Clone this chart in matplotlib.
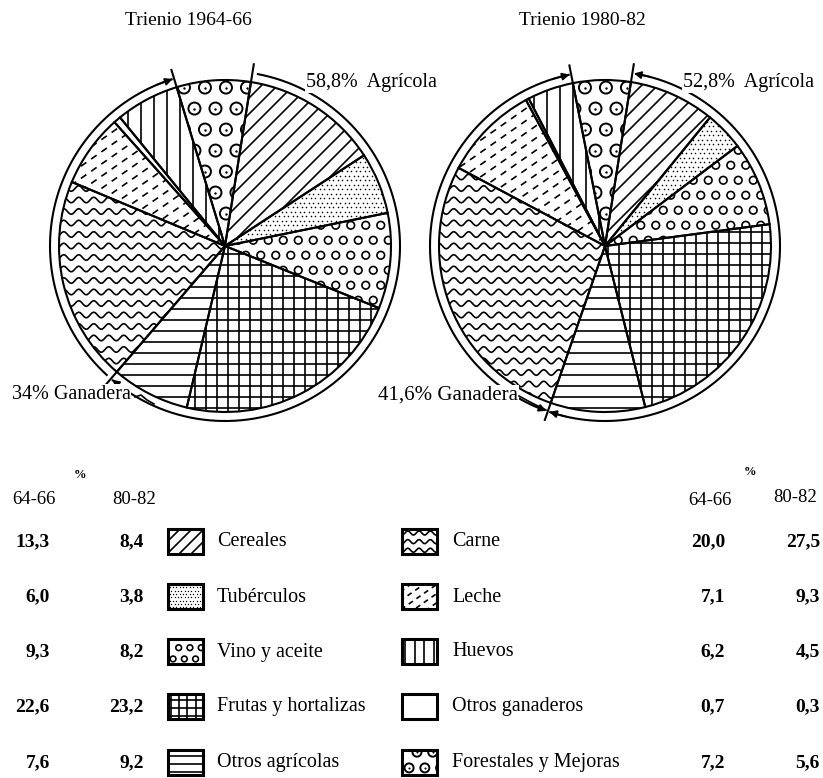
import numpy as np
import matplotlib
matplotlib.use('Agg')
import matplotlib.pyplot as plt
from matplotlib.collections import LineCollection
from matplotlib.patches import Rectangle

plt.rcParams['font.family'] = ['Liberation Serif', 'DejaVu Serif']

# ── datos ────────────────────────────────────────────────
CATEGORIAS = ['Cereales', 'Tubérculos', 'Vino y aceite', 'Frutas y hortalizas',
              'Otros agrícolas', 'Carne', 'Leche', 'Huevos', 'Otros ganaderos',
              'Forestales y Mejoras']
PCT_6466 = [13.3, 6.0, 9.3, 22.6, 7.6, 20.0, 7.1, 6.2, 0.7, 7.2]
PCT_8082 = [8.4, 3.8, 8.2, 23.2, 9.2, 27.5, 9.3, 4.5, 0.3, 5.6]
TRAMAS = ['diag', 'dots', 'rings', 'grid', 'hlines',
          'waves', 'dashes', 'vlines', 'none', 'bigrings']
ORDEN_TARTA = [0, 1, 2, 3, 4, 5, 6, 8, 7, 9]   # sentido horario desde arriba
N_AGR, N_GAN = 5, 4
TITULOS = ['Trienio 1964-66', 'Trienio 1980-82']
ETIQ_AGR = ['58,8%  Agrícola', '52,8%  Agrícola']
ETIQ_GAN = ['34% Ganadera', '41,6% Ganadera']
PERIODOS = ['64-66', '80-82']

# ── maquetación (px, y hacia arriba) ─────────────────────
W, H = 823, 778
R = 166
CENTROS = [(225, H - 246), (605, H - 246)]
START = 81
LW = 1.5
RA = R + 9          # radio de los arcos exteriores


def num(v):
    return f'{v:.1f}'.replace('.', ',')


def trama(ax, tipo, clip, x0, x1, y0, y1, k=1.0, z=2):
    arts = []
    lw = 1.2
    if tipo == 'diag':
        h = y1 - y0
        segs = [[(c, y0), (c + h, y1)] for c in np.arange(x0 - h, x1, 16 * k)]
        arts.append(LineCollection(segs, colors='k', linewidths=lw))
    elif tipo == 'hlines':
        segs = [[(x0, y), (x1, y)] for y in np.arange(y0 + 4 * k, y1, 11 * k)]
        arts.append(LineCollection(segs, colors='k', linewidths=lw))
    elif tipo == 'vlines':
        segs = [[(x, y0), (x, y1)] for x in np.arange(x0 + 4 * k, x1, 13 * k)]
        arts.append(LineCollection(segs, colors='k', linewidths=lw))
    elif tipo == 'grid':
        segs = [[(x0, y), (x1, y)] for y in np.arange(y0 + 4 * k, y1, 11 * k)]
        segs += [[(x, y0), (x, y1)] for x in np.arange(x0 + 4 * k, x1, 11 * k)]
        arts.append(LineCollection(segs, colors='k', linewidths=lw))
    elif tipo == 'waves':
        xs = np.linspace(x0, x1, int((x1 - x0) / 1.5) + 2)
        segs = [np.column_stack([xs, y + 2.8 * k * np.sin(2 * np.pi * xs / (15 * k))])
                for y in np.arange(y0 + 5 * k, y1, 11.5 * k)]
        arts.append(LineCollection(segs, colors='k', linewidths=lw))
    elif tipo == 'dashes':
        a = np.deg2rad(35)
        d = np.array([np.cos(a), np.sin(a)])
        n = np.array([-d[1], d[0]])
        L = (x1 - x0) + (y1 - y0)
        cc = np.array([(x0 + x1) / 2, (y0 + y1) / 2])
        segs = []
        for i, t in enumerate(np.arange(-L / 2, L / 2, 10 * k)):
            p = cc + n * t + d * (i % 2) * 5 * k
            segs.append([p - d * L, p + d * L])
        arts.append(LineCollection(segs, colors='k', linewidths=lw,
                                   linestyles=[(0, (4 * k, 3.5 * k))]))
    elif tipo in ('dots', 'rings', 'bigrings'):
        paso = {'dots': 4.5, 'rings': 15, 'bigrings': 21}[tipo] * k
        xs, ys = np.meshgrid(np.arange(x0 + 0.45 * paso, x1 + paso, paso),
                             np.arange(y0 + 0.45 * paso, y1 + paso, paso))
        xs[1::2] += paso / 2
        xs, ys = xs.ravel(), ys.ravel()
        if tipo == 'dots':
            arts.append(ax.scatter(xs, ys, s=1.3 * k, c='k', linewidths=0))
        elif tipo == 'rings':
            arts.append(ax.scatter(xs, ys, s=30 * k * k, facecolors='none',
                                   edgecolors='k', linewidths=1.2))
        else:
            arts.append(ax.scatter(xs, ys, s=75 * k * k, facecolors='none',
                                   edgecolors='k', linewidths=1.4))
            arts.append(ax.scatter(xs, ys, s=3 * k, c='k', linewidths=0))
    for art in arts:
        if isinstance(art, LineCollection):
            ax.add_collection(art)
        art.set_zorder(z)
        art.set_clip_path(clip)


def punto(c, r, ang):
    t = np.deg2rad(ang)
    return c[0] + r * np.cos(t), c[1] + r * np.sin(t)


def arco(ax, c, r, a0, a1):
    t = np.linspace(a0, a1, 300)
    x, y = punto(c, r, t)
    ax.plot(x, y, color='k', lw=LW, zorder=3, solid_capstyle='butt')


def flecha(ax, c, r, a_fin, a_antes):
    ax.annotate('', xy=punto(c, r, a_fin), xytext=punto(c, r, a_antes),
                arrowprops=dict(arrowstyle='-|>', color='k', lw=1.2,
                                mutation_scale=11, shrinkA=0, shrinkB=0), zorder=4)


fig = plt.figure(figsize=(W / 100, H / 100), dpi=100)
ax = fig.add_axes([0, 0, 1, 1])

for j, pct in enumerate([PCT_6466, PCT_8082]):
    c = CENTROS[j]
    vals = [pct[i] for i in ORDEN_TARTA]
    cunas, _ = ax.pie(vals, startangle=START, counterclock=False, center=c, radius=R,
                      wedgeprops=dict(facecolor='white', edgecolor='none', zorder=1))
    ax.pie(vals, startangle=START, counterclock=False, center=c, radius=R,
           wedgeprops=dict(facecolor='none', edgecolor='k', linewidth=LW, zorder=3))
    for cuna, i in zip(cunas, ORDEN_TARTA):
        trama(ax, TRAMAS[i], cuna, c[0] - R, c[0] + R, c[1] - R, c[1] + R)

    agr = sum(pct[:N_AGR])
    gan = sum(pct[N_AGR:N_AGR + N_GAN])
    a_ini = START
    a_agr = START - 3.6 * agr
    a_gan = a_agr - 3.6 * gan
    for a in (a_ini, a_agr, a_gan):
        x, y = punto(c, np.array([R, R + 18]), a)
        ax.plot(x, y, color='k', lw=LW, zorder=3)

    arco(ax, c, RA, a_ini - 1.5, a_agr + 0.5)
    arco(ax, c, RA, a_agr - 1.5, a_gan + 0.5)
    flecha(ax, c, RA, a_agr + 0.5, a_agr + 6)
    flecha(ax, c, RA, a_gan + 0.5, a_gan + 6)
    if j == 1:
        flecha(ax, c, RA, a_ini - 0.5, a_ini - 6)
        flecha(ax, c, RA, a_agr - 0.5, a_agr - 6)

    ax.text(c[0] - 37 + 14 * j, H - 20, TITULOS[j], fontsize=14, ha='center', va='center')

# etiquetas de grupo
ax.text(306, H - 82, ETIQ_AGR[0], fontsize=14.5, ha='left', va='center', zorder=5,
        bbox=dict(facecolor='white', edgecolor='none', pad=1))
ax.text(683, H - 82, ETIQ_AGR[1], fontsize=14.5, ha='left', va='center', zorder=5,
        bbox=dict(facecolor='white', edgecolor='none', pad=1))
ax.text(12, H - 394, ETIQ_GAN[0], fontsize=14.5, ha='left', va='center', zorder=5,
        bbox=dict(facecolor='white', edgecolor='none', pad=0.5))
ax.text(378, H - 395, ETIQ_GAN[1], fontsize=15, ha='left', va='center', zorder=5,
        bbox=dict(facecolor='white', edgecolor='none', pad=0.5))
ax.plot([135, 141, 147, 154], [H - 397, H - 395, H - 400, H - 404], color='k', lw=1.2, zorder=5)
ax.plot([519, 530, 546], [H - 396, H - 402, H - 410], color='k', lw=1.2, zorder=5)

# ── leyenda ──────────────────────────────────────────────
FILAS_Y = [542, 597, 652, 707, 763]
ax.text(80, H - 475, '%', fontsize=9, fontweight='bold', ha='center', va='center')
ax.text(750, H - 472, '%', fontsize=9, fontweight='bold', ha='center', va='center')
ax.text(34, H - 499, PERIODOS[0], fontsize=13.5, ha='center', va='center')
ax.text(134, H - 499, PERIODOS[1], fontsize=13.5, ha='center', va='center')
ax.text(710, H - 500, PERIODOS[0], fontsize=13.5, ha='center', va='center')
ax.text(795, H - 497, PERIODOS[1], fontsize=13.5, ha='center', va='center')

for i, cat in enumerate(CATEGORIAS):
    fila = i % 5
    y = H - FILAS_Y[fila]
    if i < 5:
        xs, xl, xn1, xn2 = 168, 217, 50, 144
    else:
        xs, xl, xn1, xn2 = 402, 452, 725, 820
    caja = Rectangle((xs, y - 12), 35, 25, facecolor='white', edgecolor='none', zorder=1)
    ax.add_patch(caja)
    trama(ax, TRAMAS[i], caja, xs, xs + 35, y - 12, y + 13, k=0.75)
    ax.add_patch(Rectangle((xs, y - 12), 35, 25, facecolor='none', edgecolor='k',
                           linewidth=2.2, zorder=3))
    ax.text(xl, y, cat, fontsize=14.5, ha='left', va='center')
    ax.text(xn1, y, num(PCT_6466[i]), fontsize=14, fontweight='bold', ha='right', va='center')
    ax.text(xn2, y, num(PCT_8082[i]), fontsize=14, fontweight='bold', ha='right', va='center')

ax.set_xlim(0, W)
ax.set_ylim(0, H)
ax.set_axis_off()
fig.savefig('out.png', dpi=100, facecolor='white')
